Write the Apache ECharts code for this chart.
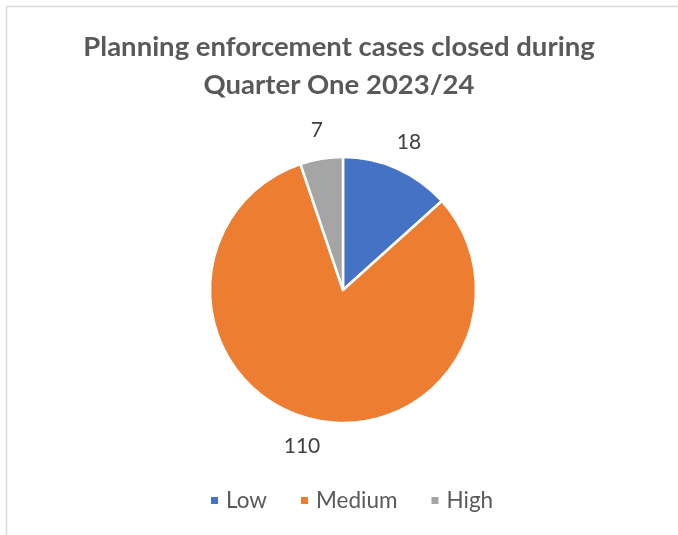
<!DOCTYPE html>
<html><head><meta charset="utf-8">
<script src="https://cdn.jsdelivr.net/npm/echarts@6/dist/echarts.min.js"></script>
<style>html,body{margin:0;padding:0;background:#fff}#c{width:678px;height:535px}</style>
</head><body><div id="c"></div>
<script>
const categories = ['Low', 'Medium', 'High'];
const values = [18, 110, 7];
const colors = ['#4472C4', '#ED7D31', '#A5A5A5'];
const titleText = 'Planning enforcement cases closed during\nQuarter One 2023/24';

const chart = echarts.init(document.getElementById('c'), null, {renderer: 'canvas'});
const FONT = 'Lato, "Open Sans", sans-serif';
chart.setOption({
  backgroundColor: '#fff',
  animation: false,
  graphic: [{
    type: 'rect', shape: {x: 6.5, y: 6.5, width: 720, height: 560},
    style: {fill: 'none', stroke: '#d9d9d9', lineWidth: 1.5}, silent: true, z: -1
  }],
  title: {
    text: titleText, left: 'center', top: 23,
    textStyle: {fontFamily: FONT, fontWeight: 'bold', fontSize: 27.5, color: '#595959', lineHeight: 38}
  },
  legend: {
    data: categories, bottom: 18, left: 204, itemWidth: 9, itemHeight: 9, itemGap: 32,
    icon: 'rect',
    textStyle: {fontFamily: FONT, fontSize: 22.5, color: '#595959', padding: [0, 0, 0, 2]}
  },
  series: [{
    type: 'pie', center: [343, 290], radius: 133, startAngle: 90, clockwise: true,
    data: categories.map((c, i) => ({name: c, value: values[i], itemStyle: {color: colors[i]}})),
    itemStyle: {borderColor: '#fff', borderWidth: 2.5},
    label: {show: true, position: 'outside', formatter: '{c}', fontFamily: FONT, fontSize: 21, color: '#404040', distanceToLabelLine: 0},
    labelLine: {show: false, length: 29, length2: 0},
    labelLayout: function () { return {align: 'center', verticalAlign: 'middle'}; },
    emphasis: {disabled: true}
  }]
});
</script></body></html>
